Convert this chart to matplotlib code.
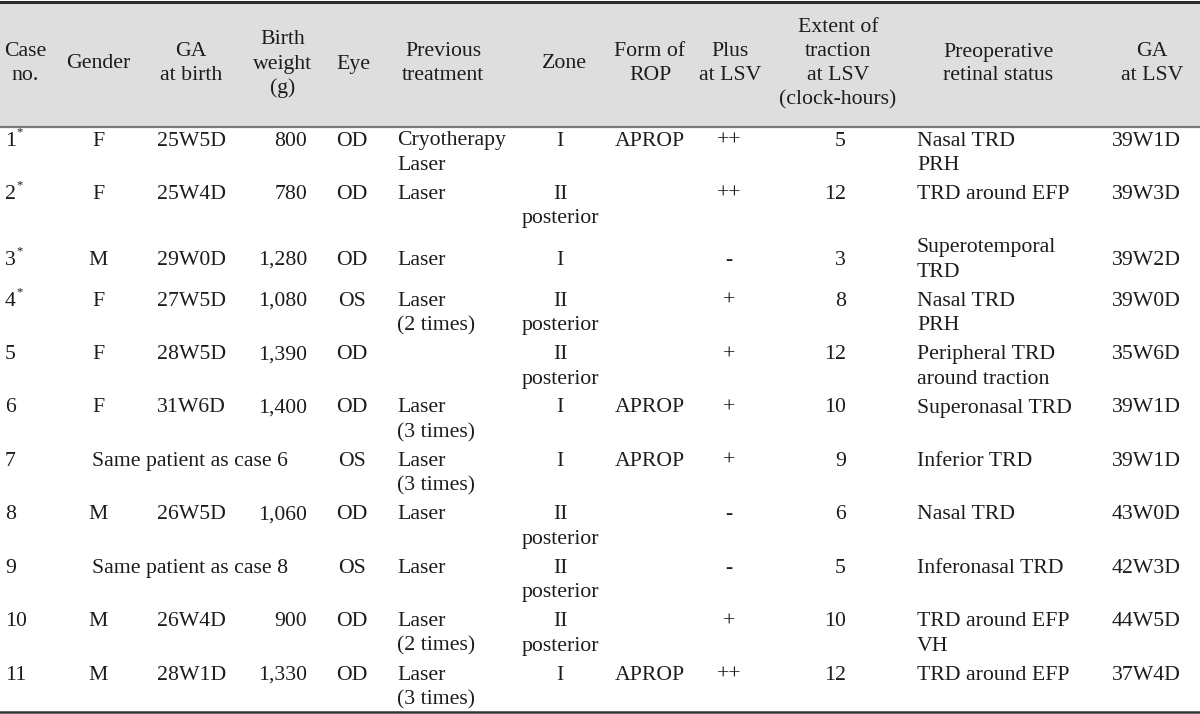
import matplotlib.pyplot as plt
from matplotlib.patches import Rectangle

plt.rcParams['font.family'] = ['Liberation Serif', 'DejaVu Serif']

# ---- table content
headers = ["Case\nno.", "Gender", "GA\nat birth", "Birth\nweight\n(g)", "Eye",
           "Previous\ntreatment", "Zone", "Form of\nROP", "Plus\nat LSV",
           "Extent of\ntraction\nat LSV\n(clock-hours)",
           "Preoperative\nretinal status", "GA\nat LSV"]

case_no = ["1", "2", "3", "4", "5", "6", "7", "8", "9", "10", "11"]
starred = [True, True, True, True, False, False, False, False, False, False, False]
gender = ["F", "F", "M", "F", "F", "F", "", "M", "", "M", "M"]
ga_birth = ["25W5D", "25W4D", "29W0D", "27W5D", "28W5D", "31W6D", "", "26W5D", "", "26W4D", "28W1D"]
birth_weight = ["800", "780", "1,280", "1,080", "1,390", "1,400", "", "1,060", "", "900", "1,330"]
same_patient = ["", "", "", "", "", "", "Same patient as case 6", "", "Same patient as case 8", "", ""]
eye = ["OD", "OD", "OD", "OS", "OD", "OD", "OS", "OD", "OS", "OD", "OD"]
prev_treatment = ["Cryotherapy\nLaser", "Laser", "Laser", "Laser\n(2 times)", "",
                  "Laser\n(3 times)", "Laser\n(3 times)", "Laser", "Laser",
                  "Laser\n(2 times)", "Laser\n(3 times)"]
zone = ["I", "II\nposterior", "I", "II\nposterior", "II\nposterior", "I", "I",
        "II\nposterior", "II\nposterior", "II\nposterior", "I"]
form_rop = ["APROP", "", "", "", "", "APROP", "APROP", "", "", "", "APROP"]
plus_lsv = ["++", "++", "-", "+", "+", "+", "+", "-", "-", "+", "++"]
extent = ["5", "12", "3", "8", "12", "10", "9", "6", "5", "10", "12"]
retinal_status = ["Nasal TRD\nPRH", "TRD around EFP", "Superotemporal\nTRD",
                  "Nasal TRD\nPRH", "Peripheral TRD\naround traction",
                  "Superonasal TRD", "Inferior TRD", "Nasal TRD",
                  "Inferonasal TRD", "TRD around EFP\nVH", "TRD around EFP"]
ga_lsv = ["39W1D", "39W3D", "39W2D", "39W0D", "35W6D", "39W1D", "39W1D",
          "43W0D", "42W3D", "44W5D", "37W4D"]

columns = [case_no, gender, ga_birth, birth_weight, eye, prev_treatment, zone,
           form_rop, plus_lsv, extent, retinal_status, ga_lsv]

# ---- layout (pixels)
W, H = 1200, 714
fs = 15.7
line_h = 24.5
head_x = [25, 98, 191, 283, 353, 443, 564, 650, 730, 838, 998, 1152]
col_x = [5, 98, 157, 307, 352, 397, 560, 615, 729, 846, 917, 1112]
col_ha = ['left', 'center', 'left', 'right', 'center', 'left', 'center',
          'left', 'center', 'right', 'left', 'left']
row_y0, row_step = 141, 53.4
middle_rows = [2]   # rows whose single-line cells are centred vertically
ink = '#1c1c1c'

fig = plt.figure(figsize=(12, 7.14), dpi=100)
ax = fig.add_axes([0, 0, 1, 1])
ax.set_xlim(0, W)
ax.set_ylim(H, 0)
ax.axis('off')

# header band and rules
ax.add_patch(Rectangle((0, 2), W, 124, color='#dedede', lw=0, zorder=0))
ax.plot([0, W], [1.5, 1.5], color='#2a2a2a', lw=2.2)
ax.plot([0, W], [126.5, 126.5], color='#7a7a7a', lw=1.6)
ax.plot([0, W], [711.5, 711.5], color='#333333', lw=1.8)


def draw_cell(x, y, txt, ha):
    for k, part in enumerate(txt.split("\n")):
        ax.text(x, y + k * line_h, part, ha=ha, va='center', fontsize=fs, color=ink)


# header
head_mid = 64
for hx, h in zip(head_x, headers):
    lines = h.split("\n")
    top = head_mid - (len(lines) - 1) * 24 / 2
    for k, part in enumerate(lines):
        ax.text(hx, top + k * 24, part, ha='center', va='center', fontsize=fs, color=ink)

# body
for r in range(len(case_no)):
    y = row_y0 + r * row_step
    for c, col in enumerate(columns):
        txt = col[r]
        if not txt:
            continue
        yy = y
        if r in middle_rows and "\n" not in txt:
            yy = y + line_h / 2
        draw_cell(col_x[c], yy, txt, col_ha[c])
    if same_patient[r]:
        draw_cell(92, y, same_patient[r], 'left')
    if starred[r]:
        yy = y + (line_h / 2 if r in middle_rows else 0)
        ax.text(col_x[0] + 11, yy - 9, "*", ha='left', va='center', fontsize=9, color=ink)

plt.savefig('out.png', dpi=100)
